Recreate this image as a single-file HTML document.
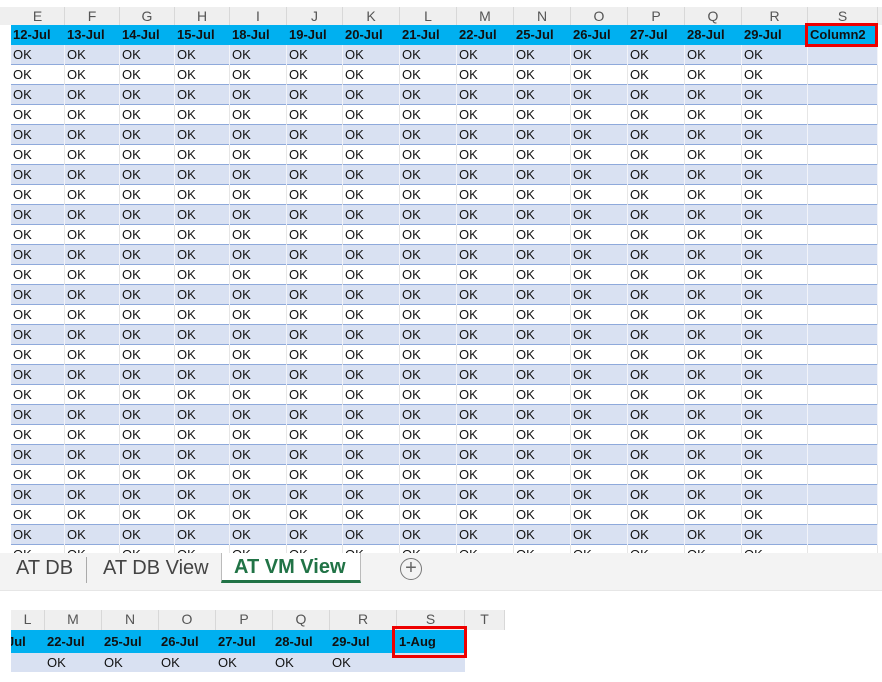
<!DOCTYPE html>
<html><head><meta charset="utf-8">
<style>
body{margin:0;width:882px;height:682px;background:#fff;position:relative;overflow:hidden;font-family:"Liberation Sans",Calibri,sans-serif;}
.a{position:absolute;box-sizing:border-box;}
.ch{color:#555;font-size:14px;text-align:center;line-height:18px;border-right:1px solid #d8d8d8;background:#efefef;}
.hd{font-weight:bold;font-size:13px;line-height:20px;padding-left:2px;white-space:nowrap;overflow:hidden;color:#111;}
.c{font-size:13px;line-height:20px;padding-left:2px;border-right:1px solid #e6e6e6;white-space:nowrap;overflow:hidden;color:#111;}
</style></head><body>
<div id="topArea" class="a" style="left:0;top:0;width:882px;height:553px;overflow:hidden"></div>
<div class="a" style="left:0;top:553px;width:882px;height:38px;background:#f3f3f3;border-bottom:1px solid #e6e6e6">
  <div class="a" style="left:16px;top:4px;font-size:20px;color:#444">AT DB</div>
  <div class="a" style="left:86px;top:4px;width:1px;height:26px;background:#aaa"></div>
  <div class="a" style="left:103px;top:4px;font-size:20px;color:#444">AT DB View</div>
  <div class="a" style="left:221px;top:0;width:140px;height:30px;background:#fff;border-left:1px solid #bbb;border-right:1px solid #bbb;border-bottom:3px solid #217346">
    <div class="a" style="left:12px;top:3px;font-size:20px;font-weight:bold;color:#217346">AT VM View</div></div>
  <div class="a" style="left:400px;top:5px;width:22px;height:22px;border:1.5px solid #777;border-radius:50%;text-align:center;line-height:19px;font-size:20px;color:#666">+</div>
</div>
<div id="botArea" class="a" style="left:0;top:610px;width:510px;height:62px;overflow:hidden"></div>
<script>
const letters=['E','F','G','H','I','J','K','L','M','N','O','P','Q','R','S'];
const heads=['12-Jul','13-Jul','14-Jul','15-Jul','18-Jul','19-Jul','20-Jul','21-Jul','22-Jul','25-Jul','26-Jul','27-Jul','28-Jul','29-Jul','Column2'];
const xs=[11,65,120,175,230,287,343,400,457,514,571,628,685,742,808,878];
function box(p,cls,x,y,w,h,txt,bg,name){const d=document.createElement('div');d.className='a '+cls;d.style.left=x+'px';d.style.top=y+'px';d.style.width=w+'px';d.style.height=h+'px';if(bg)d.style.background=bg;if(txt!==undefined)d.textContent=txt;


p.appendChild(d);return d;}
const topEl=document.getElementById('topArea');
box(topEl,'',0,7,882,18,undefined,'#efefef','column-header-bar');
for(let i=0;i<15;i++){const w=xs[i+1]-xs[i];
 box(topEl,'ch',xs[i],7,w,18,letters[i],'#efefef','column-letter-'+letters[i]);
 box(topEl,'hd',xs[i],25,w,20,heads[i],'#00b0f0','header-'+heads[i]);
}
for(let r=0;r<26;r++){const y=45+r*20;const bg=r%2===0?'#d9e1f2':'#fff';
 const row=box(topEl,'',11,y,867,20,undefined,bg,'data-row-'+(r+1));row.style.borderBottom='1px solid #8ea9db';
 for(let i=0;i<15;i++){const c=box(topEl,'c',xs[i],y,xs[i+1]-xs[i],20,i<14?'OK':'',null,'cell');if(r%2===0)c.style.borderRightColor='#f2f4fa';}
}
const rb=box(topEl,'',805,23,73,24,undefined,null,'highlight-column2');rb.style.border='3px solid #e00';
const botEl=document.getElementById('botArea');
const bl=['L','M','N','O','P','Q','R','S','T'];const bh=['Jul','22-Jul','25-Jul','26-Jul','27-Jul','28-Jul','29-Jul','1-Aug',''];
const bx=[11,45,102,159,216,273,330,397,465,505];
box(botEl,'',11,0,494,20,undefined,'#efefef','snippet-column-header');
for(let i=0;i<9;i++){const w=bx[i+1]-bx[i];
 box(botEl,'ch',bx[i],0,w,20,bl[i],'#efefef','snippet-letter-'+bl[i]);
 if(i<8){const h=box(botEl,'hd',bx[i],20,w,23,bh[i],'#00b0f0','snippet-header-'+(bh[i]||'x'));h.style.lineHeight='23px';if(i===0){h.style.textIndent='-6px';}
 const c=box(botEl,'c',bx[i],43,w,19,(i>=1&&i<=6)?'OK':'','#d9e1f2','snippet-cell');c.style.borderRightColor='#d9e1f2';}
}
const rb2=box(botEl,'',392,16,75,32,undefined,null,'highlight-1-aug');rb2.style.border='3px solid #e00';
</script>
</body></html>
